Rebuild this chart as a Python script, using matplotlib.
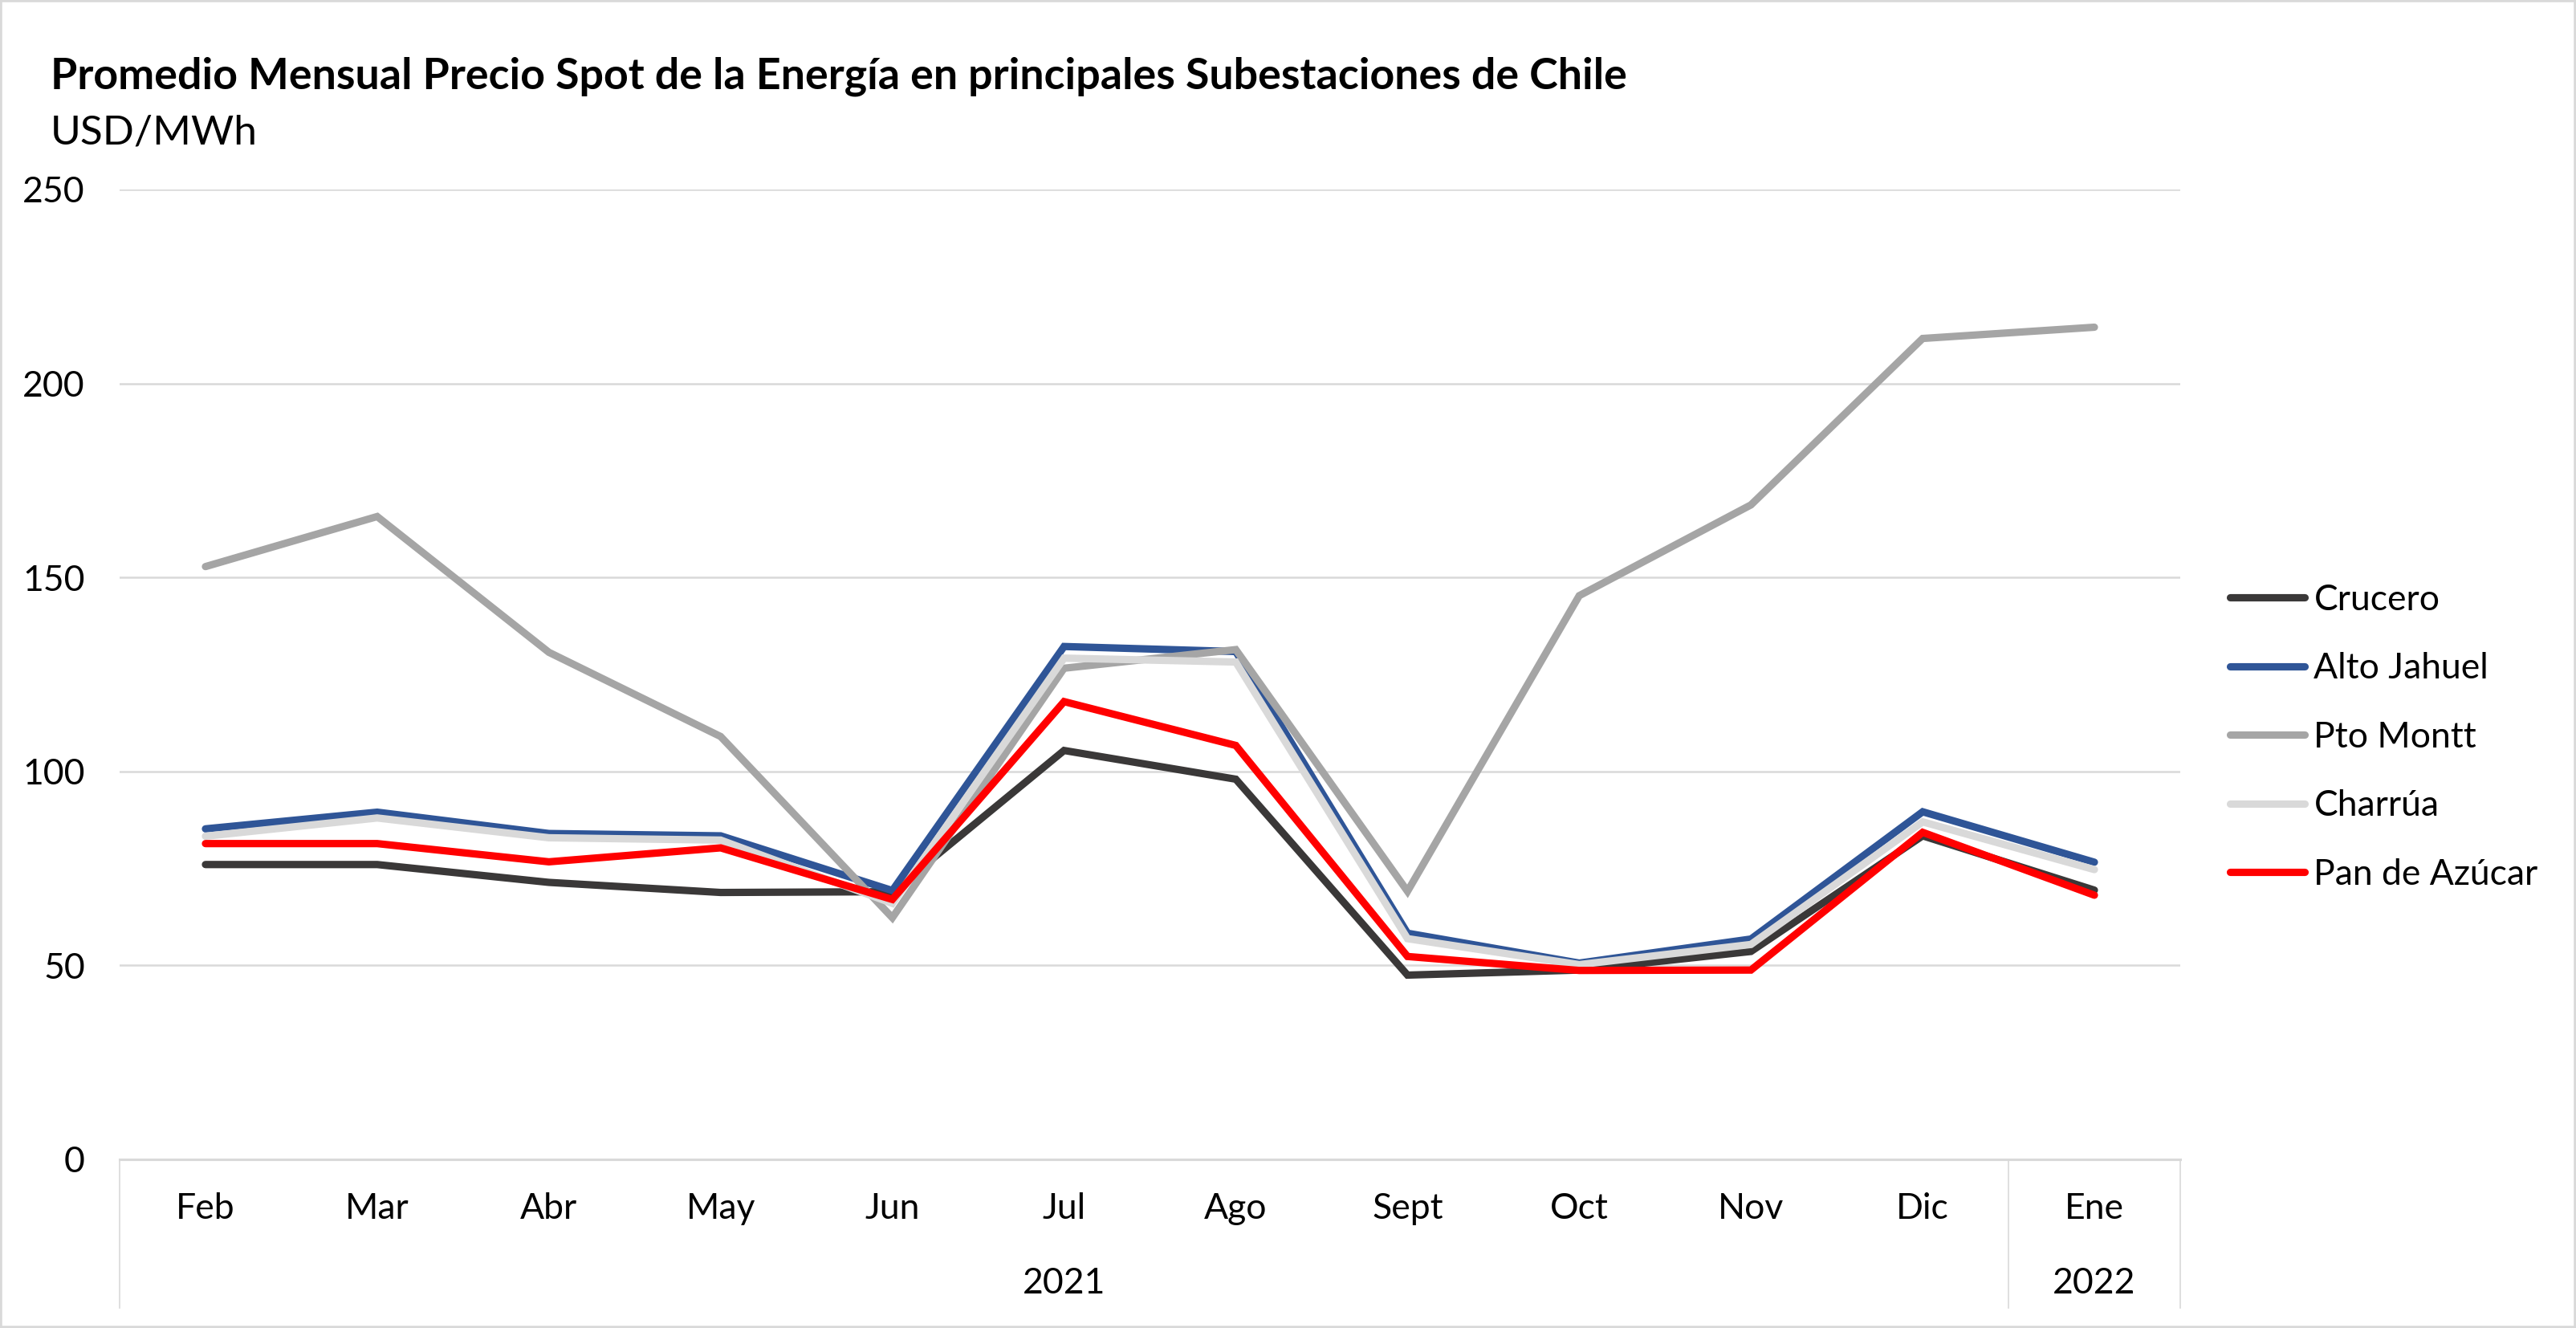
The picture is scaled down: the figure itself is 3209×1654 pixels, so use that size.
import matplotlib
matplotlib.use("Agg")
import matplotlib.pyplot as plt
from matplotlib.patches import Rectangle
from matplotlib.transforms import blended_transform_factory

plt.rcParams['font.family'] = ['Lato', 'DejaVu Sans']

# data (USD/MWh)
months = ['Feb', 'Mar', 'Abr', 'May', 'Jun', 'Jul', 'Ago', 'Sept', 'Oct', 'Nov', 'Dic', 'Ene']
years = ['2021', '2022']
year_span = [11, 1]  # months per year group

crucero = [76.0, 76.0, 71.4, 68.8, 69.0, 105.4, 98.0, 47.5, 48.8, 53.6, 83.4, 69.4]
alto_jahuel = [85.2, 89.5, 84.0, 83.4, 69.3, 132.2, 130.9, 58.3, 50.6, 56.8, 89.6, 76.6]
pto_montt = [152.8, 165.7, 130.7, 109.0, 62.3, 126.6, 131.4, 69.1, 145.3, 168.7, 211.6, 214.5]
charrua = [83.3, 88.0, 82.9, 82.3, 66.0, 129.2, 128.2, 56.9, 50.2, 55.4, 87.0, 74.7]
pan_de_azucar = [81.4, 81.4, 76.7, 80.3, 67.0, 118.0, 106.7, 52.3, 48.7, 48.8, 84.3, 68.1]

series = [
    ('Crucero', crucero, '#3A3838'),
    ('Alto Jahuel', alto_jahuel, '#2F5597'),
    ('Pto Montt', pto_montt, '#A5A5A5'),
    ('Charrúa', charrua, '#D9D9D9'),
    ('Pan de Azúcar', pan_de_azucar, '#FF0000'),
]

W, H = 3209, 1654
fig = plt.figure(figsize=(W / 100, H / 100), dpi=100)
ax = fig.add_axes([149 / W, 1 - 1444 / H, (2716 - 149) / W, (1444 - 236) / H])

x = list(range(len(months)))
for name, vals, col in series:
    ax.plot(x, vals, color=col, lw=6.6, label=name, solid_capstyle='round', solid_joinstyle='miter')

ax.set_xlim(-0.5, len(months) - 0.5)
ax.set_ylim(0, 250)
ax.set_yticks([0, 50, 100, 150, 200, 250])
ax.grid(axis='y', color='#D9D9D9', lw=1.8)
ax.set_axisbelow(True)
for s in ['top', 'right', 'left']:
    ax.spines[s].set_visible(False)
ax.spines['bottom'].set_color('#D9D9D9')
ax.spines['bottom'].set_linewidth(2.2)
ax.tick_params(axis='y', length=0, pad=31, labelsize=32, labelcolor='#000000')
ax.tick_params(axis='x', length=0, labelbottom=False)

# two-level category axis
tr = blended_transform_factory(ax.transData, ax.transAxes)
for i, m in enumerate(months):
    ax.text(i, -0.0505, m, transform=tr, ha='center', va='center', fontsize=32)
start = 0
for yr, n in zip(years, year_span):
    ax.text(start + (n - 1) / 2, -0.1275, yr, transform=tr, ha='center', va='center', fontsize=32)
    start += n
bounds = [-0.5]
for n in year_span:
    bounds.append(bounds[-1] + n)
for b in bounds:
    ax.plot([b, b], [0, -0.153], transform=tr, color='#D9D9D9', lw=1.2, clip_on=False)

fig.text(63 / W, 1 - 95 / H, 'Promedio Mensual Precio Spot de la Energía en principales Subestaciones de Chile',
         fontsize=38.7, fontweight='bold', ha='left', va='center')
fig.text(63 / W, 1 - 166 / H, 'USD/MWh', fontsize=37, ha='left', va='center')

ax.legend(loc='upper left', bbox_to_anchor=(2778 / W, 1 - 727 / H), bbox_transform=fig.transFigure,
          frameon=False, fontsize=32, handlelength=2.1, handletextpad=0.25, labelspacing=1.0,
          borderpad=0, borderaxespad=0)

fig.patches.append(Rectangle((0, 0), 1, 1, transform=fig.transFigure, fill=False,
                             edgecolor='#D9D9D9', lw=4))

fig.savefig('out.png', dpi=100)
